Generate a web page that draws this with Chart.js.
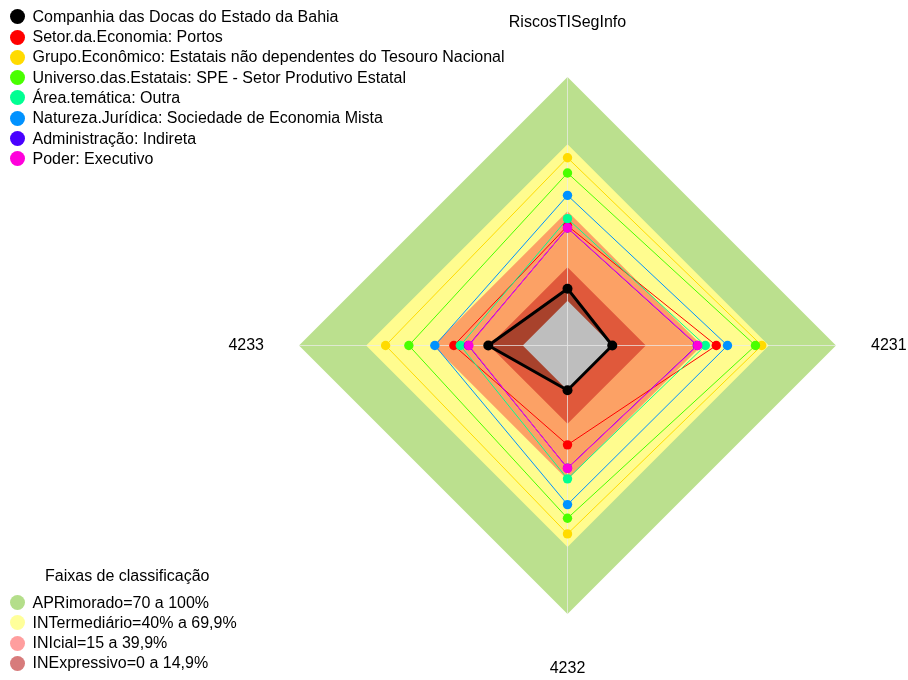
<!DOCTYPE html>
<html lang="pt-BR">
<head>
<meta charset="utf-8">
<title>RiscosTISegInfo</title>
<script src="https://cdn.jsdelivr.net/npm/chart.js@4.4.1/dist/chart.umd.min.js"></script>
<style>
  html, body { margin: 0; padding: 0; background: #ffffff; }
  #wrap {
    position: relative; width: 908px; height: 680px; overflow: hidden;
    font-family: 'Liberation Sans', Arial, sans-serif; font-size: 16px; color: #000;
  }
  #wrap canvas { position: absolute; left: 0; top: 0; }
  .key-row { position: absolute; left: 0; height: 20px; line-height: 20px; white-space: nowrap; }
  .key-dot { position: absolute; left: 10px; top: 2.5px; width: 15px; height: 15px; border-radius: 50%; }
  .key-text { position: absolute; left: 32.5px; top: 0; }
  .key-title { position: absolute; left: 45px; top: 566px; height: 20px; line-height: 20px; white-space: nowrap; }
</style>
</head>
<body>
<div id="wrap">
  <canvas id="bandsCanvas" width="908" height="680"></canvas>
  <canvas id="seriesCanvas" width="908" height="680"></canvas>
  <div id="seriesKey"></div>
  <div id="bandsKey"><div class="key-title">Faixas de classificação</div></div>
</div>
<script>
// Radar axes (clockwise from the top)
const AXES = ['RiscosTISegInfo', '4231', '4232', '4233'];

// Series names and colours
const SERIES_NAMES = [
  'Companhia das Docas do Estado da Bahia',
  'Setor.da.Economia: Portos',
  'Grupo.Econômico: Estatais não dependentes do Tesouro Nacional',
  'Universo.das.Estatais: SPE - Setor Produtivo Estatal',
  'Área.temática: Outra',
  'Natureza.Jurídica: Sociedade de Economia Mista',
  'Administração: Indireta',
  'Poder: Executivo'
];
const SERIES_COLORS = ['#000000', '#FF0000', '#FFDB00', '#49FF00', '#00FF92', '#0092FF', '#4900FF', '#FF00DB'];

// Scores (%) per axis: RiscosTISegInfo, 4231, 4232, 4233
const companhia      = [5.4, 0.0, 0.0, 15.4];
const setorPortos    = [33.5, 46.5, 24.4, 30.8];
const grupoEconomico = [63.9, 66.8, 64.2, 61.3];
const universoSPE    = [57.1, 64.0, 57.2, 50.9];
const areaOutra      = [36.7, 41.6, 39.6, 27.9];
const naturezaSEM    = [47.1, 51.5, 51.1, 39.3];
const adminIndireta  = [32.5, 38.0, 34.8, 24.3];
const poderExecutivo = [32.6, 38.2, 34.9, 24.1];
const SERIES = [companhia, setorPortos, grupoEconomico, universoSPE, areaOutra, naturezaSEM, adminIndireta, poderExecutivo];

// Classification bands (upper limit of each band, %)
const BAND_NAMES = ['APRimorado=70 a 100%', 'INTermediário=40% a 69,9%', 'INIcial=15 a 39,9%', 'INExpressivo=0 a 14,9%'];
const BAND_LIMITS = [100, 70, 40, 15];
const BAND_FILLS = ['#bbe08e', '#fffc8f', '#fca165', '#e0593b'];
const BAND_KEY_COLORS = ['#b4de8a', '#ffff9a', '#ff9e9e', '#d77b7b'];
const CENTER_LIMIT = 0;

// Radial value range: the space below 0 leaves a hub in the middle
const SCALE_MIN = -20;
const SCALE_MAX = 100;

// Plot geometry
const CX = 567.5, CY = 345.5, RADIUS = 268.5;

Chart.defaults.font.family = "'Liberation Sans', Arial, sans-serif";
Chart.defaults.font.size = 16;
Chart.defaults.color = '#000';

function radialScale(extra) {
  const base = {
    min: SCALE_MIN,
    max: SCALE_MAX,
    ticks: { display: false, stepSize: 20 },
    grid: { display: false },
    angleLines: { display: false },
    pointLabels: { display: false },
    afterSetDimensions(scale) {
      scale.xCenter = CX;
      scale.yCenter = CY;
      scale.drawingArea = RADIUS;
    }
  };
  return Object.assign(base, extra);
}

const common = {
  responsive: false,
  animation: false,
  events: [],
  layout: { padding: 0 },
  plugins: { legend: { display: false }, tooltip: { enabled: false } }
};

// Background layer: bands, company area, hub, spokes on top
const bandSets = BAND_LIMITS.map((lim, i) => ({
  label: BAND_NAMES[i],
  data: AXES.map(() => lim),
  backgroundColor: BAND_FILLS[i],
  borderColor: 'transparent',
  borderWidth: 0,
  pointRadius: 0,
  fill: 'start',
  order: 10 - i
}));

new Chart(document.getElementById('bandsCanvas'), {
  type: 'radar',
  data: {
    labels: AXES,
    datasets: bandSets.concat([
      {
        label: SERIES_NAMES[0],
        data: companhia,
        backgroundColor: 'rgba(0,0,0,0.25)',
        borderColor: 'transparent',
        borderWidth: 0,
        pointRadius: 0,
        fill: 'start',
        order: 2
      },
      {
        label: 'centro',
        data: AXES.map(() => CENTER_LIMIT),
        backgroundColor: '#bebebe',
        borderColor: 'transparent',
        borderWidth: 0,
        pointRadius: 0,
        fill: 'start',
        order: 1
      }
    ])
  },
  options: Object.assign({}, common, {
    scales: {
      r: radialScale({
        grid: { display: false, z: 1 },
        angleLines: { display: true, color: 'rgba(236,236,236,0.72)', lineWidth: 1 }
      })
    }
  })
});

// Foreground layer: series lines and points, axis labels
new Chart(document.getElementById('seriesCanvas'), {
  type: 'radar',
  data: {
    labels: AXES,
    datasets: SERIES.map((values, i) => ({
      label: SERIES_NAMES[i],
      data: values,
      borderColor: SERIES_COLORS[i],
      backgroundColor: SERIES_COLORS[i],
      pointBackgroundColor: SERIES_COLORS[i],
      borderWidth: i === 0 ? 3 : 1,
      borderJoinStyle: 'round',
      pointRadius: i === 0 ? 5 : 4.7,
      pointBorderWidth: 0,
      fill: false,
      order: SERIES.length - i
    }))
  },
  options: Object.assign({}, common, {
    scales: {
      r: radialScale({
        pointLabels: {
          display: true,
          color: '#000',
          font: { size: 16 },
          padding: (ctx) => (ctx.index % 2 === 0 ? 45 : 35)
        }
      })
    }
  })
});

// Keys
function buildKey(container, names, colors, firstTop, pitch) {
  names.forEach((name, i) => {
    const row = document.createElement('div');
    row.className = 'key-row';
    row.style.top = (firstTop + i * pitch) + 'px';
    const dot = document.createElement('span');
    dot.className = 'key-dot';
    dot.style.background = colors[i];
    const txt = document.createElement('span');
    txt.className = 'key-text';
    txt.textContent = name;
    row.appendChild(dot);
    row.appendChild(txt);
    container.appendChild(row);
  });
}
buildKey(document.getElementById('seriesKey'), SERIES_NAMES, SERIES_COLORS, 6.7, 20.3);
buildKey(document.getElementById('bandsKey'), BAND_NAMES, BAND_KEY_COLORS, 592.5, 20.3);
</script>
</body>
</html>
